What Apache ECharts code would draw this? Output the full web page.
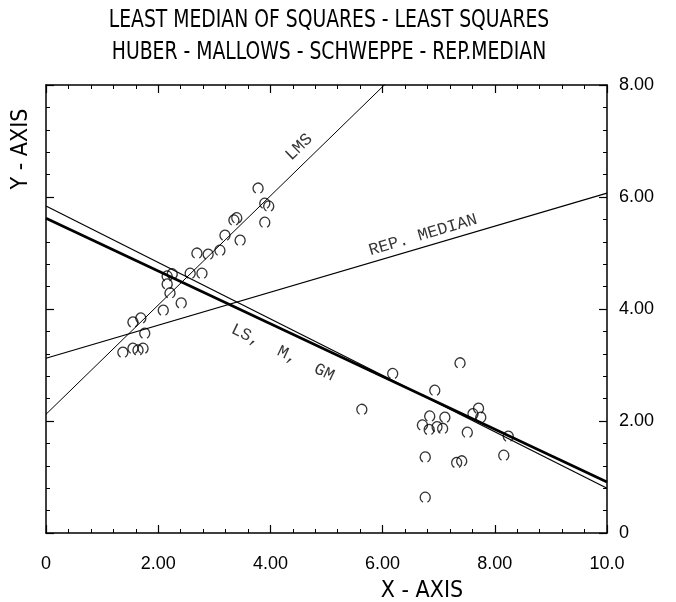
<!DOCTYPE html>
<html><head><meta charset="utf-8">
<script src="https://cdn.jsdelivr.net/npm/echarts@6/dist/echarts.min.js"></script>
<style>html,body{margin:0;padding:0;background:#fff}#c{width:676px;height:602px}</style>
</head><body><div id="c"></div>
<script>
const xValues = [3.78,3.90,3.97,3.90,3.35,3.40,3.19,3.46,3.10,2.89,2.69,2.78,2.57,2.25,2.16,2.16,2.21,2.41,2.09,1.69,1.55,1.76,1.37,1.55,1.64,1.73,
  5.63,6.18,7.38,6.93,7.71,7.61,7.75,6.84,7.11,6.71,6.83,6.97,7.07,7.51,8.24,8.16,6.76,7.32,7.41,6.76];
const yValues = [6.16,5.89,5.84,5.55,5.59,5.63,5.32,5.23,5.05,4.98,5.00,4.64,4.64,4.63,4.59,4.45,4.29,4.11,3.98,3.84,3.77,3.57,3.23,3.30,3.27,3.30,
  2.21,2.85,3.04,2.55,2.23,2.13,2.07,2.09,2.07,1.93,1.85,1.90,1.87,1.80,1.73,1.39,1.36,1.26,1.29,0.64];
// Fitted lines: name, intercept, slope
const lineNames = ['LMS','REP. MEDIAN','LS','M, GM'];
const intercepts = [2.12, 3.12, 5.62, 5.84];
const slopes = [0.975, 0.295, -0.471, -0.504];
const lineWidths = [1, 1.2, 2.6, 1.2];
// Line annotations
const noteTexts = ['LMS','REP. MEDIAN','LS,  M,  GM'];
const noteX = [4.51, 6.72, 4.22];
const noteY = [6.89, 5.32, 3.22];
const noteAngle = [44, 16.5, -25.5];
// Axis ranges / ticks
const xMin = 0, xMax = 10, yMin = 0, yMax = 8, step = 2;
const titleLines = ['LEAST MEDIAN OF SQUARES - LEAST SQUARES','HUBER - MALLOWS - SCHWEPPE - REP.MEDIAN'];
const xName = 'X - AXIS', yName = 'Y - AXIS';

const chart = echarts.init(document.getElementById('c'), null, {renderer:'canvas'});
const narrow = "'Liberation Sans Narrow','DejaVu Sans Condensed','Liberation Sans',sans-serif";
const fmtX = v => v === 0 ? '0' : (v === 10 ? '10.0' : v.toFixed(2));
const fmtY = v => v === 0 ? '0' : v.toFixed(2);
const axisCommon = {
  interval: step,
  axisLine: {show: true, onZero: false, lineStyle: {color: '#000', width: 1.5}},
  axisTick: {show: true, inside: true, length: 8, lineStyle: {color: '#000', width: 1.2}},
  minorTick: {show: true, splitNumber: 5, length: 4, lineStyle: {color: '#000', width: 1}},
  splitLine: {show: false}, minorSplitLine: {show: false}
};
function ax(extra){ return Object.assign({}, axisCommon, extra); }

const scatterData = xValues.map((x,i)=>[x, yValues[i]]);
const lineSeries = lineNames.map((n,i)=>({
  type:'line', name:n, silent:true, showSymbol:false, symbol:'none', clip:true, z:3,
  data:[[xMin, intercepts[i] + slopes[i]*xMin],[xMax, intercepts[i] + slopes[i]*xMax]],
  lineStyle:{color:'#000', width:lineWidths[i]}
}));
const noteSeries = {
  type:'scatter', silent:true, symbolSize:1, itemStyle:{color:'rgba(0,0,0,0)'}, z:5,
  data: noteTexts.map((t,i)=>({value:[noteX[i], noteY[i]], name:t,
    label:{show:true, position:'inside', formatter:t, rotate:noteAngle[i], color:'#000',
      fontFamily:"'Liberation Mono','DejaVu Sans Mono',monospace", fontSize:17}}))
};

const titleGraphics = titleLines.map((t,i)=>({type:'text', x:329, y:21+i*32, scaleX:0.87, originX:0, originY:0,
  style:{text:t, font:"24px "+narrow, fill:'#000', textAlign:'center', textVerticalAlign:'middle'}}));

chart.setOption({
  animation:false,
  backgroundColor:'#fff',
  grid:{left:46, right:69, top:85, bottom:69, containLabel:false},
  xAxis:[
    ax({type:'value', position:'bottom', min:xMin, max:xMax,
      axisLabel:{show:true, formatter:fmtX, margin:22, color:'#000', fontFamily:"'Liberation Sans',Arial,sans-serif", fontSize:18}}),
    ax({type:'value', position:'top', min:xMin, max:xMax, axisLabel:{show:false}})
  ],
  yAxis:[
    ax({type:'value', position:'right', min:yMin, max:yMax,
      axisLabel:{show:true, formatter:fmtY, margin:12, color:'#000', fontFamily:"'Liberation Sans',Arial,sans-serif", fontSize:18}}),
    ax({type:'value', position:'left', min:yMin, max:yMax, axisLabel:{show:false}})
  ],
  graphic:[
    ...titleGraphics,
    {type:'text', x:422, y:591, style:{text:xName, font:"23px "+narrow, fill:'#000', textAlign:'center', textVerticalAlign:'middle'}},
    {type:'text', x:21, y:149, rotation:Math.PI/2, style:{text:yName, font:"23px "+narrow, fill:'#000', textAlign:'center', textVerticalAlign:'middle'}}
  ],
  series:[
    ...lineSeries,
    {type:'scatter', silent:true, z:4, data:scatterData, symbol:'path://M-0.45 0.89 A1 1 0 1 1 0.45 0.89', symbolSize:[10,10],
      itemStyle:{color:'rgba(0,0,0,0)', borderColor:'#000', borderWidth:1.3}},
    noteSeries
  ]
});
</script></body></html>
